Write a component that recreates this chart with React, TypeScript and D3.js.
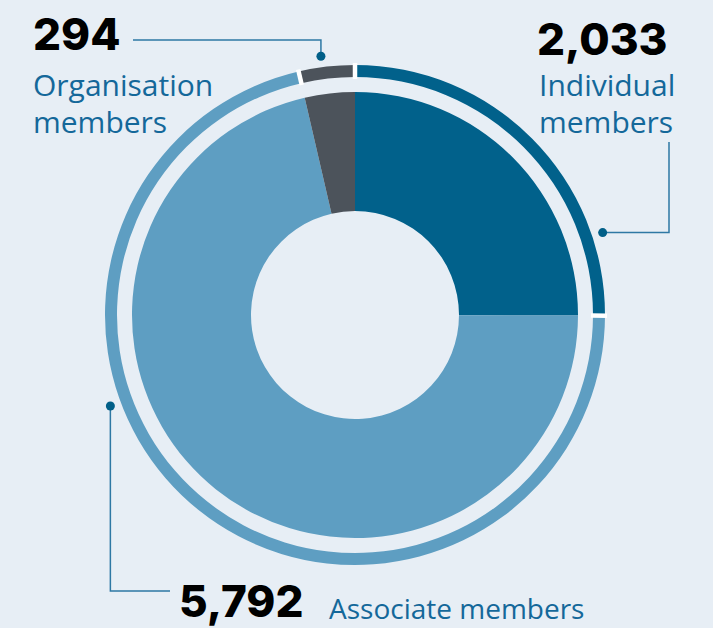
import React from "react";
import * as d3 from "d3";

// membership breakdown, clockwise from 12 o'clock
const categories = ["Individual", "Associate", "Organisation"];
const values = [2033, 5792, 294];
const colors = ["#01618b", "#5e9ec2", "#4c535b"];

const width = 713;
const height = 628;
const cx = 355;
const cy = 315;

const BG = "#e7eef5";
const LABEL = "#14689a";
const LEADER = "#2e78a4";
const DOT = "#015f88";

export default function App() {
    const fmt = d3.format(",");
    const rad = (deg: number) => (deg * Math.PI) / 180;

    const pie = d3
        .pie<number>()
        .sort(null)
        .value(d => d);
    const arcs = pie(values);

    const donut = d3.arc<d3.PieArcDatum<number>>().innerRadius(104).outerRadius(223);
    const ring = d3.arc<d3.PieArcDatum<number>>().innerRadius(238).outerRadius(250);

    // separators at the start of each slice on the outer ring
    const cuts = arcs.map(a => a.startAngle);

    // where the leader dots sit (angle in degrees, clockwise from top)
    const dotAngle = [71.6, 249.6, -7.5];
    const dotR = 261;
    const dots = dotAngle.map(a => [cx + dotR * Math.sin(rad(a)), cy - dotR * Math.cos(rad(a))]);

    const numStyle = {
        fontFamily: "Inter, Lato, sans-serif",
        fontWeight: 800,
        fontSize: 44,
        fill: "#000"
    };
    const labStyle = {
        fontFamily: "'Open Sans', 'Noto Sans', sans-serif",
        fontSize: 30,
        fill: LABEL
    };
    const labSmall = { ...labStyle, fontSize: 28 };

    return (
        <svg
            width={width}
            height={height}
            style={{ position: "fixed", top: 0, left: 0, display: "block", background: BG }}
        >
            <rect width={width} height={height} fill={BG} />
            <g transform={`translate(${cx},${cy})`}>
                {arcs.map((a, i) => (
                    <path key={"s" + i} d={donut(a) || ""} fill={colors[i]} />
                ))}
                {arcs.map((a, i) => (
                    <path key={"r" + i} d={ring(a) || ""} fill={colors[i]} />
                ))}
                {cuts.map((c, i) => (
                    <line
                        key={"c" + i}
                        x1={236 * Math.sin(c)}
                        y1={-236 * Math.cos(c)}
                        x2={252 * Math.sin(c)}
                        y2={-252 * Math.cos(c)}
                        stroke="#fff"
                        strokeWidth={4.5}
                    />
                ))}
            </g>

            {/* leader lines */}
            <g fill="none" stroke={LEADER} strokeWidth={1.5}>
                <polyline points={`${dots[0][0]},${dots[0][1]} 669,${dots[0][1]} 669,142`} />
                <polyline points={`${dots[1][0]},${dots[1][1]} ${dots[1][0]},591 170,591`} />
                <polyline points={`133,40 ${dots[2][0]},40 ${dots[2][0]},${dots[2][1]}`} />
            </g>
            {dots.map((p, i) => (
                <circle key={"d" + i} cx={p[0]} cy={p[1]} r={4.5} fill={DOT} />
            ))}

            {/* Organisation */}
            <text x={33} y={50} style={numStyle}>{fmt(values[2])}</text>
            <text x={33} y={96} style={labStyle}>{categories[2]}</text>
            <text x={33} y={133} style={labStyle}>members</text>

            {/* Individual */}
            <text x={537} y={55} style={numStyle}>{fmt(values[0])}</text>
            <text x={539} y={96} style={labStyle}>{categories[0]}</text>
            <text x={539} y={133} style={labStyle}>members</text>

            {/* Associate */}
            <text x={179} y={617} style={numStyle}>{fmt(values[1])}</text>
            <text x={329} y={619} style={labSmall}>{categories[1] + " members"}</text>
        </svg>
    );
}
